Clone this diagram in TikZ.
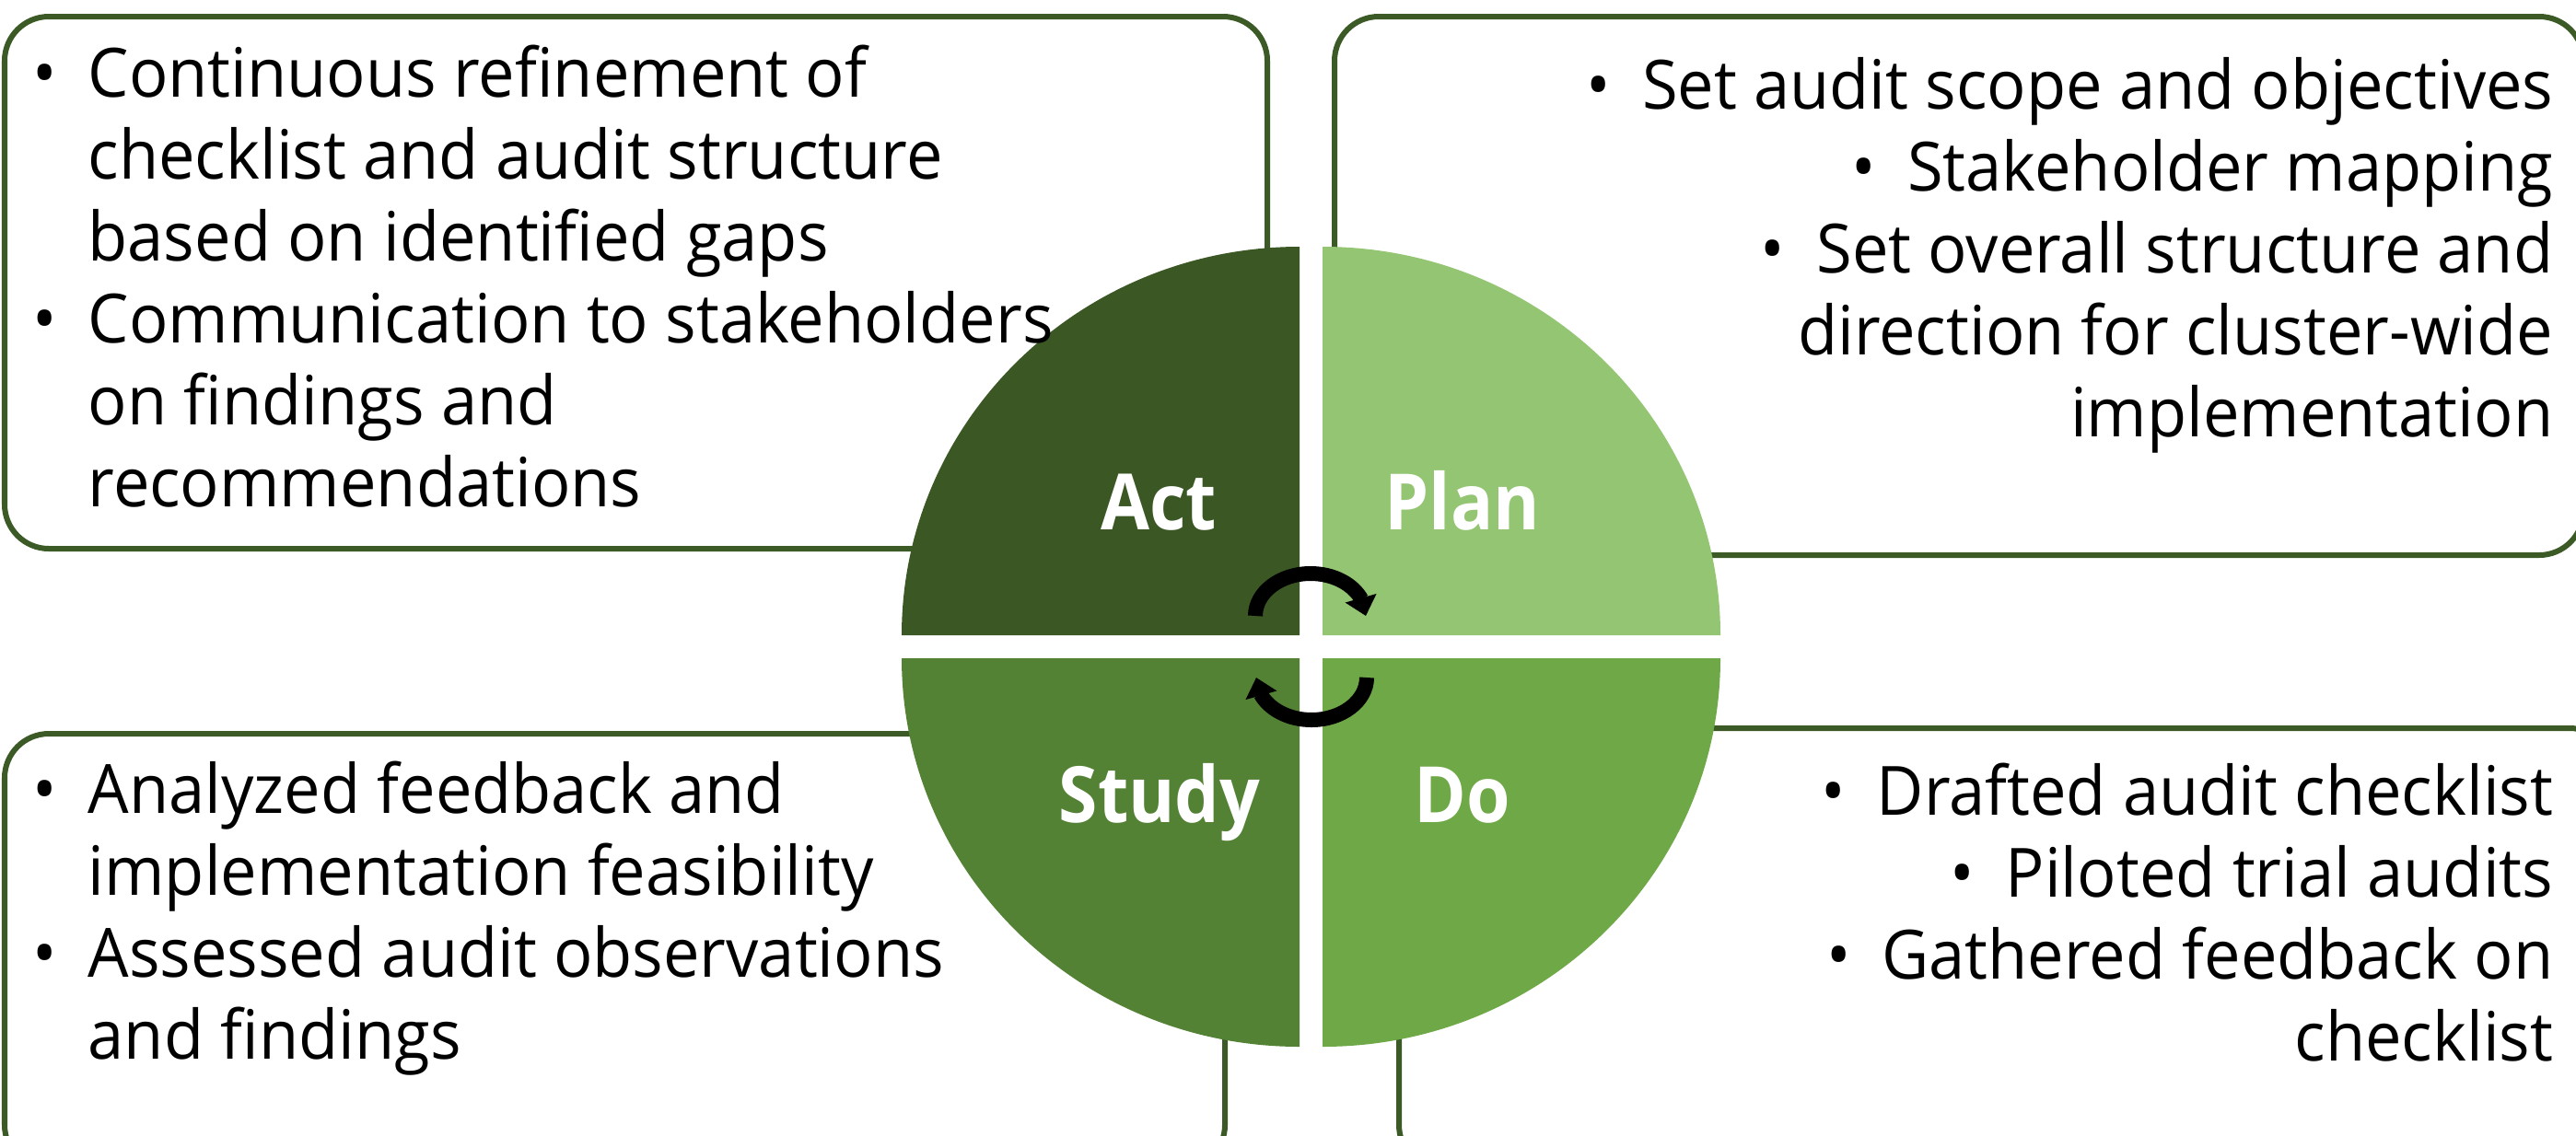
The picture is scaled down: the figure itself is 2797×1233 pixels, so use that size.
\documentclass[tikz,border=0pt]{standalone}
\usepackage{fontspec}
\setmainfont{Open Sans}[FakeStretch=0.953]
\newfontfamily\phasefont{Open Sans}[FakeStretch=0.91]
\usetikzlibrary{arrows.meta,bending}
\definecolor{actgreen}{HTML}{3A5724}
\definecolor{plangreen}{HTML}{93C572}
\definecolor{studygreen}{HTML}{548235}
\definecolor{dogreen}{HTML}{6FA846}
\definecolor{framegreen}{HTML}{3B5A26}
% bullet hanging to the left of the first line of a point
\newcommand\hangbullet{\llap{\textbullet\hspace{0.34cm}}}
% bullet leading a right-aligned point
\newcommand\leadbullet{\textbullet\hspace{0.34cm}}
\begin{document}
\begin{tikzpicture}[x=0.01cm,y=0.01cm,
  infobox/.style={draw=framegreen, line width=0.06cm, fill=white, rounded corners=0.48cm},
  bodytext/.style={font=\fontsize{21pt}{25.3pt}\selectfont, inner sep=0pt, text=black},
  phase/.style={font=\phasefont\fontsize{24pt}{28pt}\selectfont\bfseries, text=white, inner sep=0pt, anchor=base},
  cyc/.style={line width=0.16cm, -{Triangle[length=0.2cm,width=0.34cm,flex]}}
]
\clip (0,0) rectangle (2797,-1233);

% text panels behind the cycle
\draw[infobox] (5,-18) rectangle (1376,-596);
\draw[infobox] (1449,-18) rectangle (2805,-603);
\draw[infobox] (5,-797) rectangle (1330,-1270);
\draw[infobox] (1519,-791) rectangle (2838,-1270);

% four quarters of the cycle
\fill[actgreen]   (1411,-690) -- (979,-690)   arc[start angle=180,end angle=90,x radius=432,y radius=422] -- cycle;
\fill[plangreen]  (1436,-690) -- (1436,-268)  arc[start angle=90,end angle=0,x radius=432,y radius=422] -- cycle;
\fill[studygreen] (1411,-715) -- (979,-715)   arc[start angle=180,end angle=270,x radius=432,y radius=422] -- cycle;
\fill[dogreen]    (1436,-715) -- (1868,-715)  arc[start angle=0,end angle=-90,x radius=432,y radius=422] -- cycle;

% phase names
\node[phase] (act)   at (1258,-575) {Act};
\node[phase] (plan)  at (1588,-575) {Plan};
\node[phase] (study) at (1259,-893) {Study};
\node[phase] (do)    at (1588,-893) {Do};

% circular arrows in the middle
\draw[cyc] (1363,-669) arc[start angle=180,end angle=0,x radius=60,y radius=46];
\draw[cyc] (1484,-736) arc[start angle=0,end angle=-180,x radius=60,y radius=46];

% panel texts (anchored on the baseline of their last line)
\node[bodytext, anchor=base west, align=left] (acttext) at (95,-550)
  {\hangbullet Continuous refinement of\\
   checklist and audit structure\\
   based on identified gaps\\
   \hangbullet Communication to stakeholders\\
   on findings and\\
   recommendations};

\node[bodytext, anchor=base east, align=right] (plantext) at (2773,-474)
  {\leadbullet Set audit scope and objectives\\
   \leadbullet Stakeholder mapping\\
   \leadbullet Set overall structure and\\
   direction for cluster-wide\\
   implementation};

\node[bodytext, anchor=base west, align=left] (studytext) at (95,-1150)
  {\hangbullet Analyzed feedback and\\
   implementation feasibility\\
   \hangbullet Assessed audit observations\\
   and findings};

\node[bodytext, anchor=base east, align=right] (dotext) at (2773,-1152)
  {\leadbullet Drafted audit checklist\\
   \leadbullet Piloted trial audits\\
   \leadbullet Gathered feedback on\\
   checklist};
\end{tikzpicture}
\end{document}
